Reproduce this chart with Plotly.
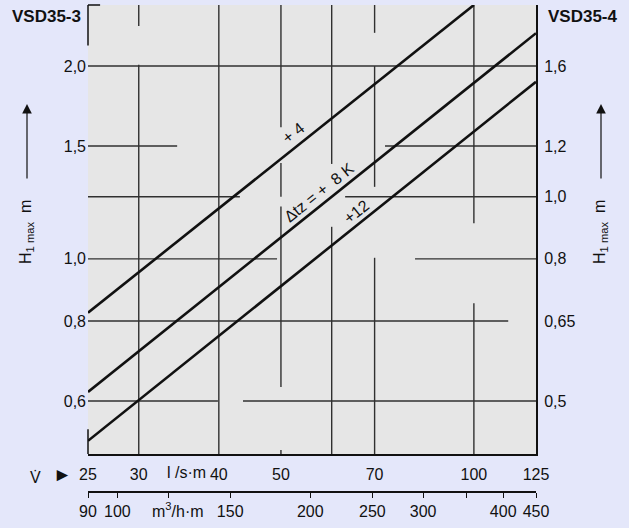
import math
import plotly.graph_objects as go

# Flow per metre of unit length (l/s·m) and max. mounting height H1max (m)
V_PLUS_4 = [25, 100]
H_PLUS_4 = [0.824, 2.49]
V_PLUS_8 = [25, 125]
H_PLUS_8 = [0.62, 2.25]
V_PLUS_12 = [25, 125]
H_PLUS_12 = [0.52, 1.89]

# Primary flow scale (l/s·m)
X_TICKS = [25, 30, 40, 50, 60, 70, 100, 125]
X_LABELS = ["25", "30", "40", "50", "", "70", "100", "125"]
X_GRID = [30, 40, 50, 60, 70, 100]

# Secondary flow scale (m³/h·m)
X2_TICKS = [90, 100, 120, 150, 200, 250, 300, 350, 400, 450]
X2_LABELS = ["90", "100", "", "150", "200", "250", "300", "", "400", "450"]

# Height scale for VSD35-3 (left) and VSD35-4 (right)
Y_TICKS = [0.6, 0.8, 1.0, 1.25, 1.5, 2.0]
Y_LABELS = ["0,6", "0,8", "1,0", "", "1,5", "2,0"]
Y_GRID = [0.6, 0.8, 1.0, 1.25, 1.5, 2.0]
Y2_LABELS = ["0,5", "0,65", "0,8", "1,0", "1,2", "1,6"]

X_RANGE = [25, 125]
Y_RANGE = [0.496, 2.49]

FONT = "Liberation Sans, Arial, sans-serif"
BG = "rgb(228,231,250)"
PLOT_BG = "rgb(230,230,230)"
LINE = "#111111"
GRID = "#303030"

# Printed grid rules are interrupted in places; visible stretches given as
# fractions of the plot area (0 = left/bottom edge, 1 = right/top edge).
V_GRID_RUNS = {
    30: [(0.0, 0.867), (0.953, 1.0)],
    40: [(0.0, 1.0)],
    50: [(0.0, 0.009), (0.149, 0.551), (0.573, 0.648), (0.728, 1.0)],
    60: [(0.0, 0.506), (0.646, 1.0)],
    70: [(0.0, 0.437), (0.595, 0.864), (0.938, 1.0)],
    100: [(0.0, 0.336), (0.514, 1.0)],
}
H_GRID_RUNS = {
    2.0: [(0.0, 1.0)],
    1.5: [(0.0, 0.199), (0.663, 1.0)],
    1.25: [(0.0, 0.339), (0.574, 1.0)],
    1.0: [(0.0, 0.422), (0.730, 1.0)],
    0.8: [(0.0, 0.938)],
    0.6: [(0.0, 0.290), (0.346, 1.0)],
}

fig = go.Figure()

for v, h in [(V_PLUS_4, H_PLUS_4), (V_PLUS_8, H_PLUS_8), (V_PLUS_12, H_PLUS_12)]:
    fig.add_trace(go.Scatter(x=v, y=h, mode="lines",
                             line=dict(color=LINE, width=2.6),
                             hoverinfo="skip", showlegend=False))

# invisible helpers so the secondary axes are laid out
fig.add_trace(go.Scatter(x=[X2_TICKS[0], X2_TICKS[-1]], y=[1, 1], xaxis="x2", yaxis="y",
                         mode="markers", marker=dict(opacity=0), hoverinfo="skip",
                         showlegend=False))
fig.add_trace(go.Scatter(x=X_RANGE, y=[1, 1], xaxis="x", yaxis="y2",
                         mode="markers", marker=dict(opacity=0), hoverinfo="skip",
                         showlegend=False))

lx = [math.log10(v) for v in X_RANGE]
ly = [math.log10(v) for v in Y_RANGE]
y_dom0 = 46 / 495


def frac_x(v):
    return (math.log10(v) - lx[0]) / (lx[1] - lx[0])


def frac_y(h):
    return (math.log10(h) - ly[0]) / (ly[1] - ly[0])


# grid rules
for v in X_GRID:
    fx = frac_x(v)
    for a, b in V_GRID_RUNS[v]:
        fig.add_shape(type="line", xref="x domain", yref="y domain",
                      x0=fx, x1=fx, y0=a, y1=b, layer="below",
                      line=dict(color=GRID, width=1.4))
for h in Y_GRID:
    fy = frac_y(h)
    for a, b in H_GRID_RUNS[h]:
        fig.add_shape(type="line", xref="x domain", yref="y domain",
                      x0=a, x1=b, y0=fy, y1=fy, layer="below",
                      line=dict(color=GRID, width=1.4))

# corner mark at the top-left of the chart frame
fig.add_shape(type="line", xref="x domain", yref="y domain", x0=0, x1=0.027, y0=1, y1=1,
              line=dict(color=LINE, width=1.5))
fig.add_shape(type="line", xref="x domain", yref="y domain", x0=0, x1=0, y0=0.91, y1=1,
              line=dict(color=LINE, width=1.5))
fig.add_shape(type="line", xref="x domain", yref="y domain", x0=0, x1=0, y0=0, y1=0.055,
              line=dict(color=LINE, width=1.5))

fig.update_layout(
    width=629, height=528,
    margin=dict(l=88, r=93, t=5, b=28, autoexpand=False),
    paper_bgcolor=BG,
    plot_bgcolor=PLOT_BG,
    font=dict(family=FONT, size=16, color="#111111"),
    showlegend=False,
    xaxis=dict(
        type="log", range=lx, anchor="y",
        tickmode="array", tickvals=X_TICKS, ticktext=X_LABELS,
        showgrid=False, ticks="", ticklabelstandoff=5,
        showline=True, linecolor=LINE, linewidth=2,
        zeroline=False, automargin=False,
    ),
    xaxis2=dict(
        type="log", range=[math.log10(90), math.log10(450)],
        overlaying="x", anchor="free", position=8 / 495, side="bottom",
        tickmode="array", tickvals=X2_TICKS, ticktext=X2_LABELS,
        showgrid=False, ticks="outside", ticklen=5, tickcolor=LINE, tickwidth=1.3,
        showline=True, linecolor=LINE, linewidth=1.5,
        zeroline=False, automargin=False,
    ),
    yaxis=dict(
        type="log", range=ly, domain=[y_dom0, 1], anchor="x",
        tickmode="array", tickvals=Y_TICKS, ticktext=Y_LABELS,
        showgrid=False, ticks="", ticklabelstandoff=1,
        showline=False, zeroline=False, automargin=False,
    ),
    yaxis2=dict(
        type="log", range=ly, overlaying="y", side="right", anchor="x",
        tickmode="array", tickvals=Y_TICKS, ticktext=Y2_LABELS,
        showgrid=False, ticks="", ticklabelstandoff=3,
        showline=True, linecolor=LINE, linewidth=2,
        zeroline=False, automargin=False,
    ),
)

angle = -math.degrees(math.atan(0.8))


def line_label(text, v, h):
    fig.add_annotation(x=math.log10(v), y=math.log10(h), xref="x", yref="y",
                       text=text, showarrow=False, textangle=angle,
                       xanchor="center", yanchor="middle",
                       font=dict(size=16, family=FONT, color="#111111"))


def px_text(text, px, py, size=16, **kw):
    # place a text by its centre, given in page pixels
    fig.add_annotation(x=(px - 88) / 448, y=(500 - py) / 495, xref="paper", yref="paper",
                       text=text, showarrow=False, xanchor="center", yanchor="middle",
                       font=dict(size=size, family=FONT, color="#111111"), **kw)


line_label("+ 4", 52.4, 1.573)
line_label("Δtz = +  8 K", 57.3, 1.27)
line_label("+12", 65.7, 1.184)

# unit labels on the two flow scales
px_text("l /s·m", 186, 472)
px_text("m<sup>3</sup>/h·m", 178, 510)

# flow symbol with arrow
px_text("V\u0307", 35, 477)
px_text("►", 62, 474, size=19)

# product titles
px_text("<b>VSD35-3</b>", 46, 16, size=17)
px_text("<b>VSD35-4</b>", 583, 16, size=17)

# height axis titles with upward arrows on both sides
for px in (27, 601):
    px_text("H<sub>1 max</sub>  m", px, 232, textangle=-90)
    fig.add_annotation(x=(px - 88) / 448, y=(500 - 104) / 495, xref="paper", yref="paper",
                       text="", showarrow=True, ax=0, ay=76, arrowhead=2,
                       arrowsize=1.6, arrowwidth=1.2, arrowcolor="#111111")

fig.write_html("out.html")
